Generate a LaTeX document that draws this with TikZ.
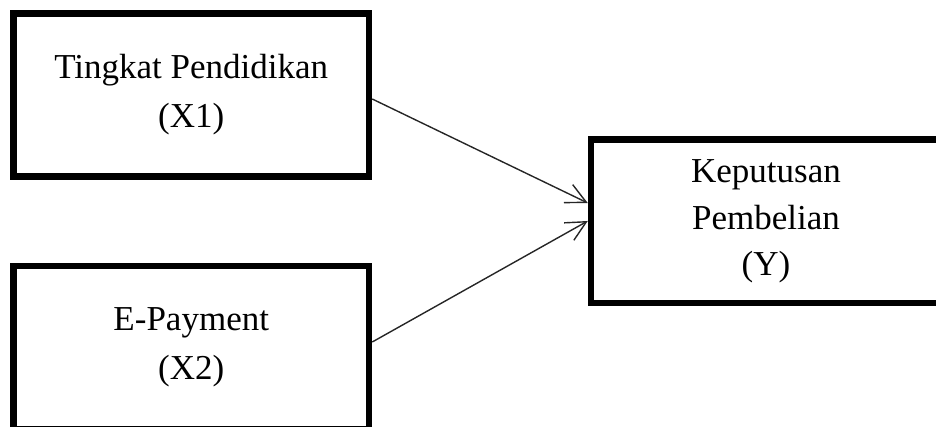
\documentclass[tikz,border=0pt]{standalone}
\usepackage{fontspec}
\setmainfont{Liberation Serif}
\usetikzlibrary{arrows.meta}
\begin{document}
\begin{tikzpicture}[x=1pt,y=-1pt,
  varbox/.style={draw=black, line width=6.5pt, rectangle, inner sep=0pt, align=center,
    font=\fontsize{35}{49}\selectfont},
  arr/.style={draw=black!85, line width=1.4pt, -{Straight Barb[length=20pt,width=20pt]}}]
\useasboundingbox (0,0) rectangle (936,427);
\clip (0,0) rectangle (936,427);
\node[varbox, minimum width=355.5pt, minimum height=163pt] (b1) at (191.25,95) {Tingkat Pendidikan\\(X1)};
\node[varbox, minimum width=355.5pt, minimum height=163pt] (b2) at (191.25,347.5) {E-Payment\\(X2)};
\node[varbox, minimum width=350pt, minimum height=163.3pt, font=\fontsize{35}{46.5}\selectfont] (b3) at (766,221.4) {Keputusan\\Pembelian\\(Y)};
\draw[arr] ([yshift=-4pt]b1.east) -- ([yshift=18.4pt]b3.west);
\draw[arr] ([yshift=5.5pt]b2.east) -- ([yshift=0.4pt]b3.west);
\end{tikzpicture}
\end{document}
